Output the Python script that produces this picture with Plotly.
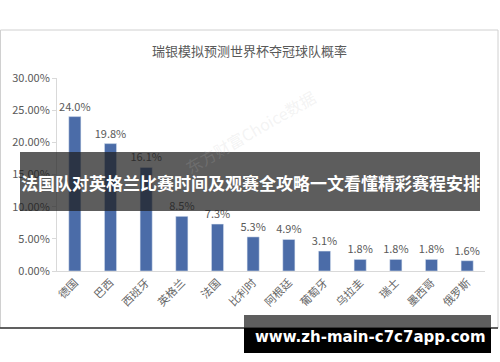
import plotly.graph_objects as go

categories = ["德国", "巴西", "西班牙", "英格兰", "法国", "比利时", "阿根廷", "葡萄牙", "乌拉圭", "瑞士", "墨西哥", "俄罗斯"]
values = [24.0, 19.8, 16.1, 8.5, 7.3, 5.3, 4.9, 3.1, 1.8, 1.8, 1.8, 1.6]
tick_vals = [0, 5, 10, 15, 20, 25, 30]
tick_text = ["0.00%", "5.00%", "10.00%", "15.00%", "20.00%", "25.00%", "30.00%"]

title_text = "瑞银模拟预测世界杯夺冠球队概率"
banner_text = "法国队对英格兰比赛时间及观赛全攻略一文看懂精彩赛程安排"
url_text = "www.zh-main-c7c7app.com"

W, H = 500, 362
L, R, T, B = 57, 15, 78, 91
pw, ph = W - L - R, H - T - B

def px(x):
    return (x - L) / pw

def py(y):
    return (H - B - y) / ph

font = "Noto Sans CJK SC, Noto Sans, sans-serif"

fig = go.Figure(go.Bar(
    x=categories, y=values,
    marker=dict(color="#4b6ca8"),
    width=0.34,
    text=values,
    texttemplate="%{y:.1f}%",
    textposition="outside",
    constraintext="none",
    textfont=dict(color="#595959", size=11),
    cliponaxis=False,
))

fig.update_layout(
    width=W, height=H,
    margin=dict(l=L, r=R, t=T, b=B),
    paper_bgcolor="white", plot_bgcolor="white",
    font=dict(family=font, color="#595959", size=11),
    showlegend=False,
    xaxis=dict(showline=True, linecolor="#d9d9d9", tickangle=-45, showgrid=False,
               ticks="", tickfont=dict(size=11, color="#666666")),
    yaxis=dict(range=[0, 30], tickvals=tick_vals, ticktext=tick_text, showline=True,
               linecolor="#d9d9d9", ticks="outside", ticklen=4, tickcolor="#d9d9d9",
               showgrid=False, zeroline=False, tickfont=dict(size=11, color="#595959")),
)

shapes = [
    dict(type="rect", xref="paper", yref="paper", x0=px(0.5), x1=px(498), y0=py(30), y1=py(328),
         line=dict(color="#d0d0d0", width=1), fillcolor="rgba(0,0,0,0)", layer="below"),
    dict(type="line", xref="paper", yref="paper", x0=px(0), x1=px(498), y0=py(328), y1=py(328),
         line=dict(color="#333333", width=1.5)),
    dict(type="rect", xref="paper", yref="paper", x0=px(20), x1=px(480), y0=py(152), y1=py(211),
         line=dict(width=0), fillcolor="rgba(30,30,30,0.72)", layer="above"),
    dict(type="rect", xref="paper", yref="paper", x0=px(244), x1=px(491), y0=py(315), y1=py(328),
         line=dict(width=0), fillcolor="rgba(40,40,40,0.75)", layer="above"),
    dict(type="rect", xref="paper", yref="paper", x0=px(244), x1=px(491), y0=py(328), y1=py(353),
         line=dict(width=0), fillcolor="#000000", layer="above"),
]
fig.update_layout(shapes=shapes)

fig.add_annotation(xref="paper", yref="paper", x=px(249), y=py(51), text=title_text,
                   showarrow=False, font=dict(size=13, color="#595959", family=font),
                   xanchor="center", yanchor="middle")
fig.add_annotation(xref="paper", yref="paper", x=px(250), y=py(132), text="东方财富Choice数据",
                   showarrow=False, textangle=-30, font=dict(size=16, color="rgba(190,190,190,0.18)", family=font),
                   xanchor="center", yanchor="middle")
fig.add_annotation(xref="paper", yref="paper", x=px(250), y=py(182), text="<b>" + banner_text + "</b>",
                   showarrow=False, font=dict(size=17, color="white", family=font),
                   xanchor="center", yanchor="middle")
fig.add_annotation(xref="paper", yref="paper", x=px(370), y=py(337), text="<b>" + url_text + "</b>",
                   showarrow=False, font=dict(size=15, color="white", family="DejaVu Sans, sans-serif"),
                   xanchor="center", yanchor="middle")

fig.write_html("out.html")
